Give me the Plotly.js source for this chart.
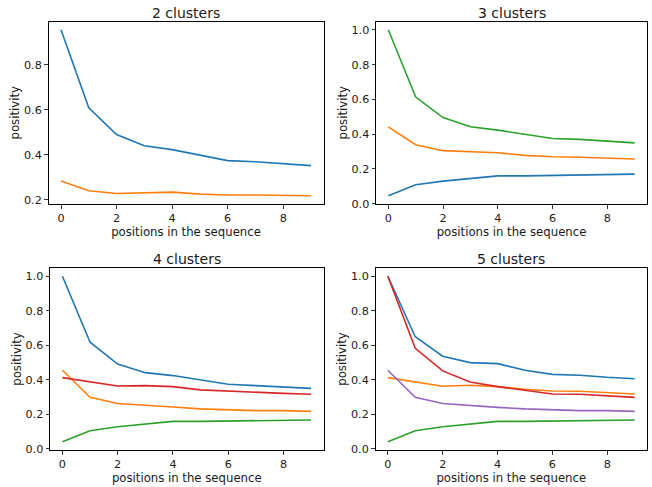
<!DOCTYPE html>
<html>
<head>
<meta charset="utf-8">
<script src="https://cdn.plot.ly/plotly-3.0.1.min.js"></script>
<style>html,body{margin:0;padding:0;background:#fff}#chart{width:652px;height:487px}</style>
</head>
<body>
<div id="chart"></div>
<script>
// ---- data ----
const positions = [0, 1, 2, 3, 4, 5, 6, 7, 8, 9];
const panelTitles = ["2 clusters", "3 clusters", "4 clusters", "5 clusters"];
const xLabel = "positions in the sequence";
const yLabel = "positivity";

// 2 clusters
const c2_s0 = [0.956, 0.609, 0.490, 0.440, 0.423, 0.400, 0.374, 0.369, 0.360, 0.352];
const c2_s1 = [0.283, 0.240, 0.228, 0.230, 0.234, 0.225, 0.221, 0.221, 0.221, 0.218];
// 3 clusters
const c3_s0 = [0.046, 0.109, 0.130, 0.145, 0.160, 0.160, 0.162, 0.166, 0.170, 0.170];
const c3_s1 = [0.442, 0.339, 0.305, 0.299, 0.293, 0.278, 0.270, 0.267, 0.263, 0.257];
const c3_s2 = [1.000, 0.613, 0.495, 0.442, 0.423, 0.398, 0.375, 0.370, 0.358, 0.350];
// 4 clusters
const c4_s0 = [1.000, 0.618, 0.492, 0.442, 0.425, 0.398, 0.375, 0.367, 0.357, 0.351];
const c4_s1 = [0.456, 0.299, 0.263, 0.251, 0.243, 0.232, 0.226, 0.222, 0.222, 0.218];
const c4_s2 = [0.042, 0.106, 0.129, 0.145, 0.160, 0.160, 0.162, 0.166, 0.168, 0.168];
const c4_s3 = [0.413, 0.390, 0.365, 0.367, 0.361, 0.342, 0.334, 0.330, 0.322, 0.317];
// 5 clusters
const c5_s0 = [1.000, 0.650, 0.537, 0.500, 0.494, 0.456, 0.432, 0.427, 0.415, 0.407];
const c5_s1 = [0.413, 0.390, 0.363, 0.369, 0.361, 0.346, 0.336, 0.334, 0.326, 0.318];
const c5_s2 = [0.042, 0.106, 0.129, 0.145, 0.160, 0.160, 0.162, 0.166, 0.168, 0.168];
const c5_s3 = [1.000, 0.583, 0.452, 0.388, 0.361, 0.338, 0.318, 0.317, 0.307, 0.299];
const c5_s4 = [0.456, 0.299, 0.263, 0.251, 0.241, 0.232, 0.226, 0.222, 0.222, 0.218];

const colors = ["#1f77b4", "#ff7f0e", "#2ca02c", "#d62728", "#9467bd"];
const panels = [
  [c2_s0, c2_s1],
  [c3_s0, c3_s1, c3_s2],
  [c4_s0, c4_s1, c4_s2, c4_s3],
  [c5_s0, c5_s1, c5_s2, c5_s3, c5_s4]
];

// ---- layout geometry (pixels) ----
const W = 652, H = 487;
const boxes = [
  {l: 48.5, r: 323.5, t: 21.5, b: 204},
  {l: 376, r: 647, t: 21.5, b: 204},
  {l: 50, r: 323.5, t: 268, b: 450},
  {l: 375.5, r: 647, t: 268, b: 450}
];
const TXT = "#1a1a1a";
const FONT = "DejaVu Sans";

const traces = [];
const layout = {
  width: W, height: H,
  margin: {l: 0, r: 0, t: 0, b: 0},
  paper_bgcolor: "#fff", plot_bgcolor: "#fff",
  showlegend: false,
  font: {family: FONT, size: 11.7, color: TXT},
  annotations: []
};

function yRange(series) {
  let mn = Infinity, mx = -Infinity;
  series.forEach(s => s.forEach(v => { mn = Math.min(mn, v); mx = Math.max(mx, v); }));
  const pad = 0.05 * (mx - mn);
  return [mn - pad, mx + pad];
}

panels.forEach((series, i) => {
  const k = i + 1;
  const xa = "xaxis" + (k === 1 ? "" : k), ya = "yaxis" + (k === 1 ? "" : k);
  const xr = "x" + (k === 1 ? "" : k), yr = "y" + (k === 1 ? "" : k);
  series.forEach((s, j) => {
    traces.push({
      x: positions, y: s, xaxis: xr, yaxis: yr,
      type: "scatter", mode: "lines",
      line: {color: colors[j], width: 1.6},
      hoverinfo: "skip"
    });
  });
  const b = boxes[i];
  const common = {
    showgrid: false, zeroline: false,
    showline: true, mirror: true, linecolor: "#000", linewidth: 1,
    ticks: "outside", ticklen: 3.5, tickwidth: 0.8, tickcolor: "#000",
    tickfont: {family: FONT, size: 11.2, color: TXT}
  };
  layout[xa] = Object.assign({}, common, {
    domain: [b.l / W, b.r / W],
    anchor: yr,
    range: [-0.45, 9.45],
    tickmode: "linear", tick0: 0, dtick: 2,
    title: {text: xLabel, font: {family: FONT, size: 11.7, color: TXT}, standoff: 2}
  });
  layout[ya] = Object.assign({}, common, {
    domain: [1 - b.b / H, 1 - b.t / H],
    anchor: xr,
    range: yRange(series),
    tickmode: "linear", tick0: 0, dtick: 0.2, tickformat: ".1f",
    title: {text: yLabel, font: {family: FONT, size: 11.7, color: TXT}, standoff: 1}
  });
  layout.annotations.push({
    text: panelTitles[i], xref: "paper", yref: "paper",
    x: (b.l + b.r) / 2 / W, y: 1 - (b.t - 9) / H,
    xanchor: "center", yanchor: "middle", showarrow: false,
    font: {family: FONT, size: 14, color: TXT}
  });
});

Plotly.newPlot("chart", traces, layout, {staticPlot: true, displayModeBar: false});
</script>
</body>
</html>
